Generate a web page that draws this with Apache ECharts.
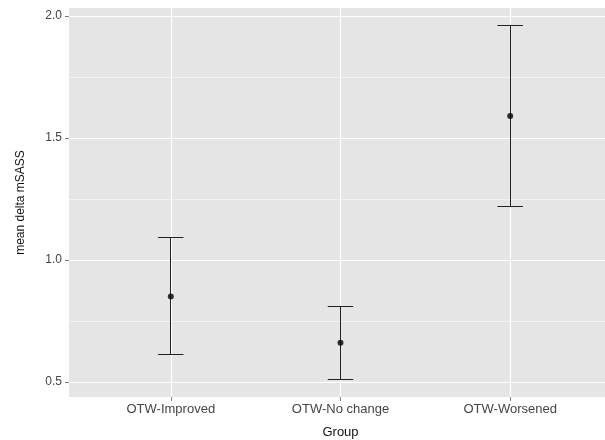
<!DOCTYPE html>
<html>
<head>
<meta charset="utf-8">
<script src="https://cdn.jsdelivr.net/npm/echarts@6/dist/echarts.min.js"></script>
<style>
  html, body { margin: 0; padding: 0; background: #ffffff; }
  #chart { width: 605px; height: 440px; }
</style>
</head>
<body>
<div id="chart"></div>
<script>
// Group means of delta mSASS with their error-bar limits
const groups = ['OTW-Improved', 'OTW-No change', 'OTW-Worsened'];
const meanValues = [0.85, 0.66, 1.59];
const lowerValues = [0.61, 0.51, 1.22];
const upperValues = [1.09, 0.81, 1.96];
const yTicks = [0.5, 1.0, 1.5, 2.0];
const yMinorTicks = [0.75, 1.25, 1.75];

const FONT = "'Liberation Sans', Arial, Helvetica, sans-serif";
const positions = groups.map((g, i) => i + 1);

// Continuous scale padded by 5% of the data range, discrete scale padded by 0.6
const dataLo = Math.min(...lowerValues);
const dataHi = Math.max(...upperValues);
const pad = 0.05 * (dataHi - dataLo);
const yMin = dataLo - pad;
const yMax = dataHi + pad;
const xMin = 1 - 0.6;
const xMax = groups.length + 0.6;
const capHalf = 0.075;

const barData = positions.map((x, i) => [x, lowerValues[i], upperValues[i]]);
const pointData = positions.map((x, i) => [x, meanValues[i]]);

const crisp = v => Math.round(v - 0.5) + 0.5;

const chart = echarts.init(document.getElementById('chart'), null, { renderer: 'canvas' });
chart.setOption({
  animation: false,
  backgroundColor: '#ffffff',
  grid: {
    left: 69, top: 8, width: 543, height: 389,
    outerBoundsMode: 'none', containLabel: false,
    show: true, backgroundColor: '#E5E5E5', borderWidth: 0
  },
  xAxis: {
    type: 'value', min: xMin, max: xMax,
    name: 'Group', nameLocation: 'middle', nameGap: 29,
    nameTextStyle: { fontFamily: FONT, fontSize: 13, color: '#111111' },
    axisLine: { show: false },
    axisTick: { show: true, length: 4, customValues: positions, lineStyle: { color: '#7F7F7F', width: 1 } },
    axisLabel: {
      customValues: positions, margin: 6,
      fontFamily: FONT, fontSize: 13, color: '#444444',
      formatter: v => groups[Math.round(v) - 1] || ''
    },
    splitLine: { show: true, lineStyle: { color: '#FFFFFF', width: 1.2 } }
  },
  yAxis: [{
    type: 'value', min: yMin, max: yMax,
    name: 'mean delta mSASS', nameLocation: 'middle', nameGap: 42, nameRotate: 90,
    nameTextStyle: { fontFamily: FONT, fontSize: 12, color: '#111111' },
    axisLine: { show: false },
    axisTick: { show: true, length: 4, customValues: yTicks, lineStyle: { color: '#7F7F7F', width: 1 } },
    axisLabel: {
      customValues: yTicks, margin: 7,
      fontFamily: FONT, fontSize: 12, color: '#444444',
      formatter: v => v.toFixed(1)
    },
    splitLine: { show: true, lineStyle: { color: '#FFFFFF', width: 1.2 } }
  }, {
    type: 'value', min: yMin, max: yMax, position: 'left',
    axisLine: { show: false },
    axisTick: { show: false, customValues: yMinorTicks },
    axisLabel: { show: false, customValues: yMinorTicks },
    splitLine: { show: true, lineStyle: { color: '#F4F4F4', width: 0.8 } }
  }],
  series: [{
    type: 'custom',
    data: barData,
    encode: { x: 0, y: [1, 2] },
    renderItem: function (params, api) {
      const x = api.value(0);
      const lo = api.value(1);
      const hi = api.value(2);
      const pLo = api.coord([x, lo]);
      const pHi = api.coord([x, hi]);
      const lLo = api.coord([x - capHalf, lo]);
      const rLo = api.coord([x + capHalf, lo]);
      const lHi = api.coord([x - capHalf, hi]);
      const rHi = api.coord([x + capHalf, hi]);
      const style = { stroke: '#222222', lineWidth: 1, fill: null };
      const cx = crisp(pLo[0]);
      return {
        type: 'group',
        children: [
          { type: 'line', shape: { x1: cx, y1: pHi[1], x2: cx, y2: pLo[1] }, style: style },
          { type: 'line', shape: { x1: lHi[0], y1: crisp(lHi[1]), x2: rHi[0], y2: crisp(rHi[1]) }, style: style },
          { type: 'line', shape: { x1: lLo[0], y1: crisp(lLo[1]), x2: rLo[0], y2: crisp(rLo[1]) }, style: style }
        ]
      };
    },
    z: 3
  }, {
    type: 'scatter',
    data: pointData,
    symbol: 'circle',
    symbolSize: 6,
    itemStyle: { color: '#000000' },
    z: 4
  }]
});
</script>
</body>
</html>
